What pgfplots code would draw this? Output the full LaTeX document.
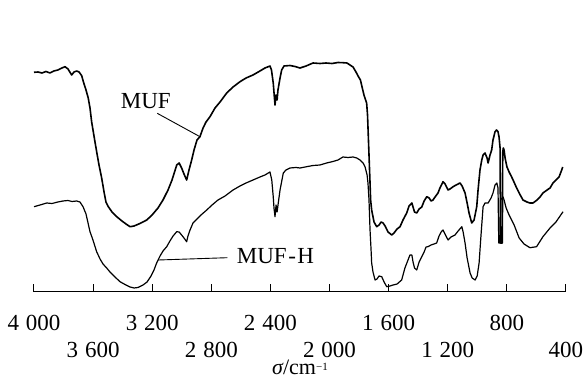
\documentclass[border=0pt]{standalone}
\usepackage{pgfplots}
\pgfplotsset{compat=1.18}
\usepackage{fontspec}
\setmainfont{Liberation Serif}
\begin{document}
\begin{tikzpicture}
\begin{axis}[
  at={(0pt,0pt)}, anchor=south west,
  scale only axis, width=532pt, height=292pt,
  x dir=reverse, y dir=reverse,
  xmin=400, xmax=4000, ymin=0, ymax=292,
  axis y line=none,
  axis x line*=bottom,
  axis line style={line width=1pt},
  tick align=inside, major tick length=8pt,
  tick style={line width=1pt, black},
  xtick={4000,3200,2400,1600,800},
  xticklabels={4\hspace{0.3em}000,3\hspace{0.3em}200,2\hspace{0.3em}400,1\hspace{0.3em}600,800},
  extra x ticks={3600,2800,2000,1200,400},
  extra x tick labels={3\hspace{0.3em}600,2\hspace{0.3em}800,2\hspace{0.3em}000,1\hspace{0.3em}200,400},
  xticklabel style={anchor=base, inner sep=0pt, font=\fontsize{23}{27}\selectfont, yshift=-38.6pt},
  extra x tick style={xticklabel style={yshift=-26.4pt}},
  xlabel={{\itshape σ}/cm\raisebox{4.5pt}{\fontsize{11}{11}\selectfont −1}},
  xlabel style={at={(axis description cs:0.5,0)}, anchor=base, inner sep=0pt, yshift=-82.5pt, font=\fontsize{22}{26}\selectfont},
  clip=false,
]
% MUF
\addplot[black, line width=1.6pt, line join=round] coordinates {
(4000,72.3)(3973,72)(3946,73)(3919,71.5)(3892,73)(3865,71)(3838,70)(3811,68)(3790,66.7)(3770,69)
(3745,75)(3729,72)(3711,71)(3695,72)(3677,75.7)(3666,81.7)(3648,90)(3633,98)(3621,108)(3610,121.7)
(3594,136)(3576,151.7)(3560,165)(3542,178)(3526,192)(3513,202)(3497,206.7)(3472,212)(3440,216.7)(3405,221)
(3377,224)(3350,226.7)(3323,226)(3283,223.5)(3237,220)(3201,215)(3161,208)(3127,200)(3093,190)(3066,180)
(3034,165)(3018,163)(3001,168)(2985,174)(2967,180)(2951,170)(2933,160)(2917,150)(2897,140)(2877,136.7)
(2856,128)(2836,122)(2809,116.7)(2775,108)(2741,102)(2696,93)(2653,87)(2606,81.7)(2565,78)(2518,75)
(2471,71)(2437,68)(2403,66)(2393,70)(2381,83)(2373,98)(2369,105)(2362,95)(2355,100)(2349,90)
(2335,78)(2324,70)(2308,66)(2268,65.5)(2234,66.5)(2200,68)(2159,66)(2112,63)(2065,63.5)(2024,63)
(1983,63.5)(1943,62.5)(1909,62.7)(1882,63)(1862,65)(1841,67)(1821,72)(1807,76)(1791,80)(1780,87)
(1767,95)(1749,103)(1743,115)(1740,127)(1733,155)(1726,183)(1722,200)(1715,210)(1699,222)(1681,226.7)
(1665,225)(1651,222)(1638,223)(1624,226)(1604,232)(1579,235)(1564,233)(1543,229)(1523,226.7)(1503,220)
(1478,213)(1462,206)(1443,203)(1435,207)(1425,212)(1410,213)(1394,209)(1376,207)(1360,201)(1342,196.7)
(1326,198)(1313,201)(1300,200)(1286,197)(1266,193)(1253,188)(1232,181.7)(1218,184)(1198,190)(1185,189)
(1164,186.7)(1144,185)(1117,183)(1103,186)(1083,193)(1069,203)(1056,213)(1038,223)(1022,220)(1004,206.7)
(995,190)(982,170)(970,160)(961,155)(948,153)(934,158)(927,163)(914,155)(903,150)(894,140)
(880,131.7)(870,130)(860,131.7)(853,137)(846,148)(843,243)(831,243)(828,152)(824,148)(819,150)
(812,158)(800,166.7)(785,172)(771,176)(758,180)(737,187)(717,193)(691,200)(664,202)(644,203)
(623,203)(596,200)(576,197)(556,193)(528,190)(508,188)(488,183)(468,180)(447,177)(429,170)(422,167)
};
% MUF-H
\addplot[black, line width=1.2pt, line join=round] coordinates {
(4000,206.7)(3959,205)(3914,203)(3878,203.5)(3838,202)(3804,201)(3770,200.5)(3743,201.5)(3711,201)(3689,202)
(3668,206.7)(3648,214)(3621,231.7)(3601,240)(3576,251.7)(3553,259)(3533,264)(3508,268)(3486,272)(3452,277)
(3418,281.7)(3384,284.5)(3350,287)(3323,288)(3296,287.5)(3262,285)(3235,282)(3208,276)(3188,270)(3170,263)
(3147,256)(3127,251)(3102,246.7)(3080,241)(3059,236)(3034,231.7)(3018,232)(3001,235)(2985,238)(2967,241.7)
(2958,236)(2944,230)(2924,223)(2897,219)(2870,215)(2831,210)(2795,205)(2755,200)(2707,196)(2653,190)
(2606,186)(2565,183)(2518,180)(2471,177)(2437,175)(2403,172)(2391,180)(2381,196.7)(2376,208)(2369,216.7)
(2362,205)(2355,212)(2347,203)(2335,190)(2313,173)(2295,170)(2268,168)(2227,167.5)(2200,168)(2155,166.7)
(2112,165.5)(2065,165)(2020,163)(1977,161.5)(1943,160)(1909,157)(1875,157.5)(1841,157)(1816,158)(1794,160)
(1773,163)(1760,166.7)(1746,175)(1740,183)(1733,200)(1726,230)(1719,250)(1715,263)(1706,272)(1692,280)
(1679,279)(1665,276)(1647,276.7)(1631,282)(1613,286.7)(1591,286)(1570,285)(1543,284)(1512,280)(1490,268)
(1469,260)(1456,255)(1443,255)(1435,262)(1425,268)(1410,270)(1394,262)(1376,256.7)(1360,252)(1347,247)
(1334,246.7)(1313,245)(1293,244)(1275,243)(1259,236)(1245,232)(1232,230)(1212,236)(1198,240)(1178,237)
(1151,235)(1130,231)(1105,226.7)(1096,232)(1083,243)(1069,258)(1049,273)(1035,278)(1015,280)(1001,276)
(988,263)(975,235)(961,206.7)(948,203)(927,203)(907,198)(894,193)(880,185)(868,183)(860,188)
(855,243)(846,243)(843,200)(826,197)(819,200)(805,208)(785,215)(751,225)(717,238)(684,244)
(644,247.7)(599,246.7)(556,236.7)(508,228)(468,222)(420,211.7)
};
% leader lines
\addplot[black, line width=0.9pt] coordinates {(3166,113.3)(2877,136.7)};
\addplot[black, line width=0.9pt] coordinates {(3159,260)(2692,257.7)};
\node[anchor=base west, inner sep=0pt, font=\fontsize{23}{27}\selectfont] at (axis cs:3413,108.3) {MUF};
\node[anchor=base west, inner sep=0pt, font=\fontsize{23}{27}\selectfont] at (axis cs:2628,263.3) {MUF\kern1.5pt-\kern1.5pt H};
\end{axis}
\pgfresetboundingbox
\path (-34pt,-87pt) rectangle (550pt,292pt);
\end{tikzpicture}
\end{document}
